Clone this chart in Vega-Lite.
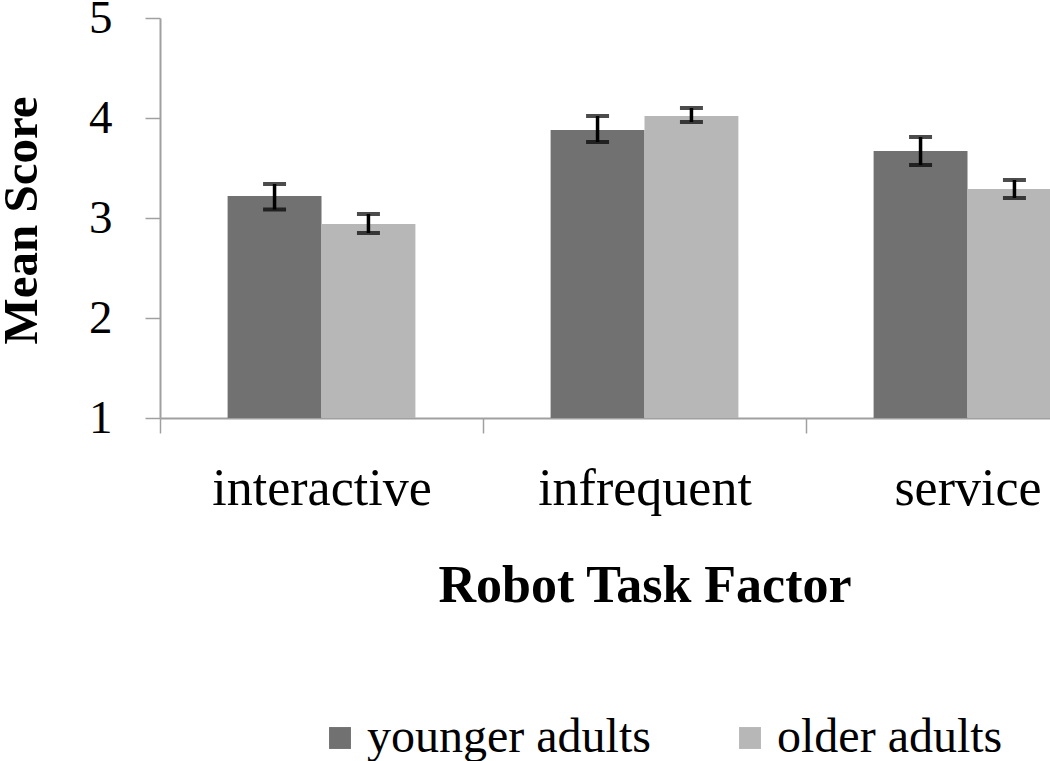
{
  "$schema": "https://vega.github.io/schema/vega-lite/v6.json",
  "autosize": {"type": "none"},
  "padding": {"left": 160, "top": 18, "right": 0, "bottom": 343},
  "width": 969,
  "height": 400,
  "background": "white",
  "config": {"view": {"stroke": null}, "font": "Liberation Serif"},
  "data": {"values": [
    {"task": "interactive", "group": "younger adults", "mean": 3.22, "lo": 3.085, "hi": 3.34},
    {"task": "interactive", "group": "older adults", "mean": 2.94, "lo": 2.85, "hi": 3.04},
    {"task": "infrequent", "group": "younger adults", "mean": 3.88, "lo": 3.76, "hi": 4.02},
    {"task": "infrequent", "group": "older adults", "mean": 4.02, "lo": 3.96, "hi": 4.1},
    {"task": "service", "group": "younger adults", "mean": 3.67, "lo": 3.53, "hi": 3.81},
    {"task": "service", "group": "older adults", "mean": 3.29, "lo": 3.2, "hi": 3.38}
  ]},
  "encoding": {
    "x": {
      "field": "task", "type": "nominal",
      "sort": ["interactive", "infrequent", "service"],
      "scale": {"paddingInner": 0, "paddingOuter": 0},
      "axis": {
        "title": "Robot Task Factor", "titleFont": "Liberation Serif", "titleFontSize": 52, "titleFontWeight": "bold", "titleColor": "black",
        "titlePadding": 46,
        "labelAngle": 0, "labelFont": "Liberation Serif", "labelFontSize": 52, "labelColor": "black", "labelPadding": 30, "labelLimit": 600,
        "tickBand": "extent", "tickSize": 15, "tickColor": "#a0a0a0", "domainColor": "#a0a0a0", "domainWidth": 2, "tickWidth": 1.5
      }
    },
    "xOffset": {
      "field": "group", "type": "nominal",
      "sort": ["younger adults", "older adults"],
      "scale": {"paddingInner": 0, "paddingOuter": 0.72}
    }
  },
  "layer": [
    {
      "mark": {"type": "bar"},
      "encoding": {
        "y": {
          "field": "mean", "type": "quantitative",
          "scale": {"domain": [1, 5], "zero": false, "nice": false},
          "axis": {
            "title": "Mean Score", "titleFont": "Liberation Serif", "titleFontSize": 49, "titleFontWeight": "bold", "titleColor": "black",
            "titleAngle": -90, "titleX": -139, "titleY": 202, "titleAlign": "center", "titleBaseline": "middle",
            "values": [1, 2, 3, 4, 5], "format": "d", "grid": false,
            "labelFont": "Liberation Serif", "labelFontSize": 47, "labelColor": "black", "labelPadding": 33,
            "tickSize": 15, "tickColor": "#a0a0a0", "domainColor": "#a0a0a0", "domainWidth": 2, "tickWidth": 1.5
          }
        },
        "y2": {"datum": 1},
        "color": {
          "field": "group", "type": "nominal",
          "scale": {"domain": ["younger adults", "older adults"], "range": ["#717171", "#b7b7b7"]},
          "legend": {
            "orient": "none", "legendX": 156, "legendY": 696, "direction": "horizontal", "title": null,
            "symbolType": "square", "symbolSize": 480, "symbolStrokeWidth": 0,
            "labelFont": "Liberation Serif", "labelFontSize": 48, "labelColor": "black", "labelOffset": 3, "columnPadding": 75, "labelLimit": 500
          }
        }
      }
    },
    {
      "mark": {"type": "rule", "color": "black", "strokeWidth": 3.5},
      "encoding": {
        "y": {"field": "lo", "type": "quantitative"},
        "y2": {"field": "hi"}
      }
    },
    {
      "mark": {"type": "tick", "color": "black", "thickness": 4, "size": 23},
      "encoding": {"y": {"field": "lo", "type": "quantitative"}}
    },
    {
      "mark": {"type": "tick", "color": "black", "thickness": 4, "size": 23},
      "encoding": {"y": {"field": "hi", "type": "quantitative"}}
    }
  ]
}
